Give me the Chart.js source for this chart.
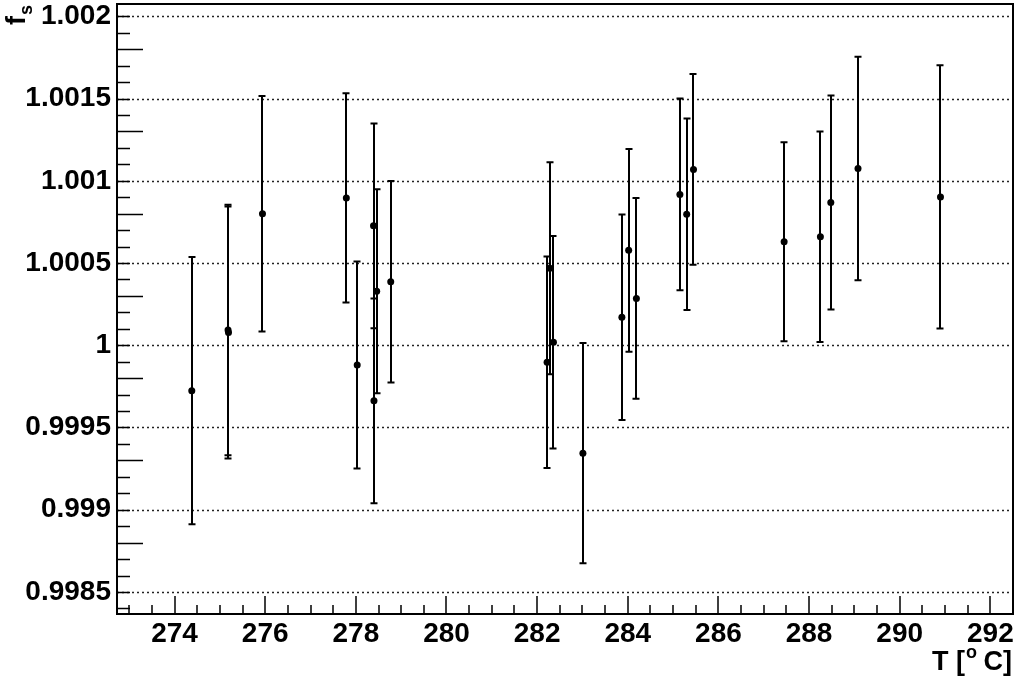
<!DOCTYPE html>
<html>
<head>
<meta charset="utf-8">
<style>
html,body{margin:0;padding:0;background:#fff;}
#c{display:block;}
</style>
<script src="https://cdn.jsdelivr.net/npm/chart.js@4/dist/chart.umd.min.js"></script>
</head>
<body>
<canvas id="c" width="1019" height="681"></canvas>
<script>
// ---- data ----
const temperatures = [274.38, 275.18, 275.19, 275.94, 277.79, 278.03, 278.39, 278.40, 278.46, 278.77,
  282.22, 282.28, 282.36, 283.01, 283.87, 284.02, 284.19, 285.15, 285.30, 285.45,
  287.45, 288.25, 288.48, 289.08, 290.90];
const fsValues = [0.999724, 1.000093, 1.000077, 1.000799, 1.000896, 0.999880, 1.000726, 0.999662, 1.000328, 1.000386,
  0.999897, 1.000468, 1.000018, 0.999344, 1.000170, 1.000577, 1.000285, 1.000917, 1.000797, 1.001069,
  1.000629, 1.000660, 1.000868, 1.001075, 1.000902];
const fsErrors = [0.000812, 0.000762, 0.000766, 0.000716, 0.000636, 0.000630, 0.000622, 0.000622, 0.000620, 0.000613,
  0.000643, 0.000645, 0.000646, 0.000670, 0.000625, 0.000617, 0.000610, 0.000583, 0.000582, 0.000580,
  0.000605, 0.000640, 0.000650, 0.000680, 0.000800];
const xTickValues = [274, 276, 278, 280, 282, 284, 286, 288, 290, 292];
const yTickValues = [0.9985, 0.999, 0.9995, 1.0, 1.0005, 1.001, 1.0015, 1.002];
const yTickLabels = ['0.9985', '0.999', '0.9995', '1', '1.0005', '1.001', '1.0015', '1.002'];
const xTitle = ['T [', 'o', ' C]'];
const yTitle = ['f', 's'];

const FONT = 'Liberation Sans, Arial, Helvetica, sans-serif';

const points = temperatures.map((t, i) => ({x: t, y: fsValues[i]}));

const rootPlugin = {
  id: 'rootStyle',
  beforeDatasetsDraw(chart) {
    const ctx = chart.ctx, a = chart.chartArea;
    const xs = chart.scales.x, ys = chart.scales.y;
    ctx.save();
    // dotted horizontal grid
    ctx.strokeStyle = '#222';
    ctx.lineWidth = 1.5;
    ctx.setLineDash([2, 3]);
    yTickValues.forEach(v => {
      const y = Math.round(ys.getPixelForValue(v)) + 0.5;
      ctx.beginPath();
      ctx.moveTo(a.left, y);
      ctx.lineTo(a.right, y);
      ctx.stroke();
    });
    ctx.setLineDash([]);
    // error bars
    ctx.strokeStyle = '#000';
    ctx.lineWidth = 2;
    temperatures.forEach((t, i) => {
      const x = Math.round(xs.getPixelForValue(t));
      const yTop = ys.getPixelForValue(fsValues[i] + fsErrors[i]);
      const yBot = ys.getPixelForValue(fsValues[i] - fsErrors[i]);
      ctx.beginPath();
      ctx.moveTo(x, yTop);
      ctx.lineTo(x, yBot);
      ctx.moveTo(x - 3.5, yTop);
      ctx.lineTo(x + 3.5, yTop);
      ctx.moveTo(x - 3.5, yBot);
      ctx.lineTo(x + 3.5, yBot);
      ctx.stroke();
    });
    ctx.restore();
  },
  afterDraw(chart) {
    const ctx = chart.ctx, a = chart.chartArea;
    const xs = chart.scales.x, ys = chart.scales.y;
    ctx.save();
    ctx.strokeStyle = '#000';
    // ticks
    ctx.lineWidth = 1.5;
    ctx.beginPath();
    for (let v = 273; v <= 292.5 + 1e-9; v += 0.5) {
      const x = Math.round(xs.getPixelForValue(v));
      const major = Math.abs(v / 2 - Math.round(v / 2)) < 1e-9;
      const len = major ? 18 : 9;
      ctx.moveTo(x, a.bottom);
      ctx.lineTo(x, a.bottom - len);
    }
    for (let k = 0; k <= 38; k++) {
      const v = 0.9984 + k * 0.0001;
      if (v > ys.max || v < ys.min) continue;
      const y = Math.round(ys.getPixelForValue(v)) + 0.5;
      const major = (k + 1) % 5 === 0;
      const len = major ? 26 : 13;
      ctx.moveTo(a.left, y);
      ctx.lineTo(a.left + len, y);
    }
    ctx.stroke();
    // frame
    ctx.lineWidth = 2;
    ctx.strokeRect(a.left, a.top, a.right - a.left, a.bottom - a.top);

    // x title
    ctx.fillStyle = '#000';
    ctx.textBaseline = 'alphabetic';
    ctx.textAlign = 'left';
    const big = 'bold 27px ' + FONT, small = 'bold 18px ' + FONT;
    ctx.font = big;
    const w1 = ctx.measureText(xTitle[0]).width;
    const w3 = ctx.measureText(xTitle[2]).width;
    ctx.font = small;
    const w2 = ctx.measureText(xTitle[1]).width;
    const right = 1012, base = 670;
    let x0 = right - (w1 + w2 + w3);
    ctx.font = big;
    ctx.fillText(xTitle[0], x0, base);
    ctx.font = small;
    ctx.fillText(xTitle[1], x0 + w1 + 1, base - 12);
    ctx.font = big;
    ctx.fillText(xTitle[2], x0 + w1 + w2, base);

    // y title (rotated)
    ctx.save();
    ctx.translate(25, 25);
    ctx.rotate(-Math.PI / 2);
    ctx.font = 'bold 27px ' + FONT;
    ctx.fillText(yTitle[0], 0, 0);
    const fw = ctx.measureText(yTitle[0]).width;
    ctx.font = 'bold 18px ' + FONT;
    ctx.fillText(yTitle[1], fw + 1, 7);
    ctx.restore();
    ctx.restore();
  }
};

new Chart(document.getElementById('c'), {
  type: 'scatter',
  data: {
    datasets: [{
      data: points,
      pointRadius: 3.5,
      pointBackgroundColor: '#000',
      pointBorderColor: '#000',
      pointBorderWidth: 0,
      showLine: false
    }]
  },
  options: {
    responsive: false,
    animation: false,
    devicePixelRatio: 1,
    layout: {padding: {left: 0, top: 4, right: 6, bottom: 0}},
    plugins: {legend: {display: false}, tooltip: {enabled: false}, title: {display: false}},
    scales: {
      x: {
        type: 'linear',
        position: 'bottom',
        min: 272.73,
        max: 292.5,
        afterBuildTicks: s => { s.ticks = xTickValues.map(v => ({value: v})); },
        afterFit: s => { s.height = 67; s.paddingLeft = 0; s.paddingRight = 0; },
        ticks: {
          autoSkip: false, maxRotation: 0, minRotation: 0, padding: 3,
          color: '#000',
          font: {family: FONT, weight: 'bold', size: 28},
          callback: v => String(v)
        },
        grid: {display: false, drawTicks: false},
        border: {display: false}
      },
      y: {
        type: 'linear',
        position: 'left',
        min: 0.998366,
        max: 1.002075,
        afterBuildTicks: s => { s.ticks = yTickValues.map(v => ({value: v})); },
        afterFit: s => { s.width = 117; s.paddingTop = 0; s.paddingBottom = 0; },
        ticks: {
          autoSkip: false, padding: 6,
          color: '#000',
          font: {family: FONT, weight: 'bold', size: 28},
          callback: (v, i) => yTickLabels[i]
        },
        grid: {display: false, drawTicks: false},
        border: {display: false}
      }
    }
  },
  plugins: [rootPlugin]
});
</script>
</body>
</html>
